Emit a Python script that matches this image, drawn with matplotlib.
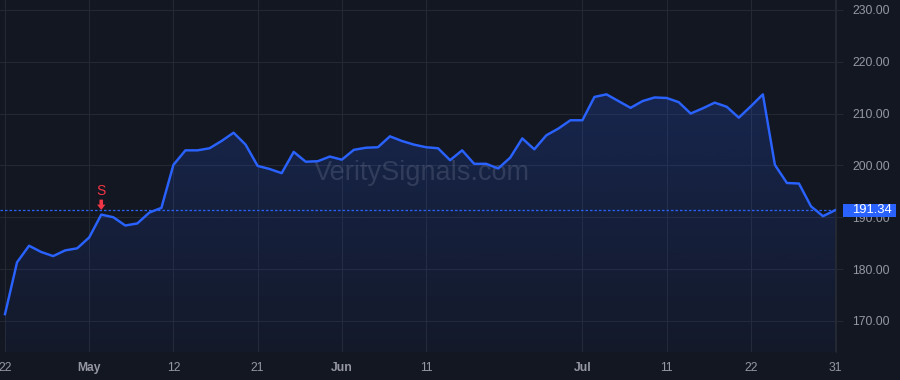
import numpy as np
import matplotlib
matplotlib.use("Agg")
import matplotlib.pyplot as plt
import matplotlib.transforms as mtransforms
from matplotlib.patches import Rectangle, Polygon
from matplotlib.colors import to_rgb

plt.rcParams['font.family'] = ['Liberation Sans', 'DejaVu Sans']

# closing prices, one per session
prices = [171.3, 181.3, 184.5, 183.3, 182.5, 183.6, 184.0, 186.1, 190.5, 190.0,
          188.4, 188.8, 190.9, 191.8, 200.1, 202.9, 202.9, 203.3, 204.7, 206.3,
          204.0, 199.9, 199.3, 198.5, 202.6, 200.7, 200.8, 201.7, 201.1, 203.0,
          203.4, 203.5, 205.6, 204.7, 204.0, 203.5, 203.3, 201.0, 202.9, 200.3,
          200.3, 199.4, 201.5, 205.2, 203.1, 205.8, 207.1, 208.7, 208.7, 213.2,
          213.7, 212.4, 211.1, 212.4, 213.1, 213.0, 212.2, 210.0, 211.0, 212.1,
          211.3, 209.2, 211.4, 213.7, 200.1, 196.6, 196.5, 192.1, 190.2, 191.34]
tick_idx = [0, 7, 14, 21, 28, 35, 48, 55, 62, 69]
tick_labels = ['22', 'May', '12', '21', 'Jun', '11', 'Jul', '11', '22', '31']
month_labels = ['May', 'Jun', 'Jul']
y_ticks = [170, 180, 190, 200, 210, 220, 230]
signal_idx = 8
signal_text = 'S'
last_price = prices[-1]

BG = '#131722'
GRID = '#242833'
BLUE = '#2962ff'
RED = '#f23645'
TXT = '#9598a1'

x = np.arange(len(prices))
y = np.array(prices)

fig = plt.figure(figsize=(9, 3.8), dpi=100, facecolor=BG)
ax = fig.add_axes([0, 28 / 380, 836 / 900, 352 / 380])
ax.set_facecolor(BG)
ymin, ymax = 164.0, 231.9
ax.set_xlim(-0.416, 69.08)
ax.set_ylim(ymin, ymax)

# gradient area under the line
poly = ax.fill_between(x, y, ymin, color='none', lw=0)
grad = np.zeros((256, 1, 4))
grad[:, 0, :3] = to_rgb(BLUE)
grad[:, 0, 3] = np.linspace(0.2, 0.035, 256)
img = ax.imshow(grad, extent=[x[0], x[-1], ymin, y.max()], aspect='auto',
                origin='upper', zorder=1)
img.set_clip_path(poly.get_paths()[0], transform=ax.transData)

ax.plot(x, y, color=BLUE, lw=1.75, zorder=3)

# last price line
ax.axhline(last_price, color=BLUE, lw=0.9, dashes=(2, 1.6), zorder=2.5)

# grid
ax.set_xticks(tick_idx)
ax.set_xticklabels(tick_labels)
ax.set_yticks(y_ticks)
ax.set_yticklabels([f'{v:.2f}' for v in y_ticks])
ax.grid(True, color=GRID, lw=0.8, zorder=0)
ax.set_axisbelow(True)
ax.yaxis.tick_right()
ax.tick_params(axis='y', length=5, color=GRID, width=0.8, pad=6.5,
               labelsize=8.7, labelcolor=TXT)
ax.tick_params(axis='x', length=0, pad=7, labelsize=8.7, labelcolor=TXT)
for lab in ax.get_xticklabels():
    if lab.get_text() in month_labels:
        lab.set_fontweight('bold')
for side in ['top', 'left', 'bottom']:
    ax.spines[side].set_visible(False)
ax.spines['right'].set_color(GRID)
ax.spines['right'].set_linewidth(0.8)

# watermark
ax.text(0.505, 0.509, 'VeritySignals.com', transform=ax.transAxes,
        ha='center', va='center', fontsize=19.5, color='#a0a8c0', alpha=0.2,
        zorder=2)

# sell signal marker: arrow drawn in pixel offsets above the point
sy = prices[signal_idx]
anchor = mtransforms.Affine2D() + mtransforms.ScaledTranslation(signal_idx, sy, ax.transData)
arrow_pts = np.array([[0, 4.7], [4.2, 10], [1.8, 10], [1.8, 15],
                      [-1.8, 15], [-1.8, 10], [-4.2, 10]])
ax.add_patch(Polygon(arrow_pts, closed=True, facecolor=RED, edgecolor='none',
                     transform=anchor, zorder=4))
ax.annotate(signal_text, xy=(signal_idx, sy), xytext=(0, 16.8),
            textcoords='offset points', ha='center', va='center',
            fontsize=10, color=RED, zorder=4)

# price label on the axis
blend = mtransforms.blended_transform_factory(fig.transFigure, ax.transData)
ax.add_patch(Rectangle((842.5 / 900, last_price - 1.28), 53.5 / 900, 2.56,
                       transform=blend, facecolor=BLUE, edgecolor='none',
                       clip_on=False, zorder=5))
ax.text(852 / 900, last_price, f'{last_price:.2f}', transform=blend,
        ha='left', va='center', fontsize=9.4, color='white', zorder=6,
        clip_on=False)

fig.savefig('out.png', dpi=100, facecolor=BG)
